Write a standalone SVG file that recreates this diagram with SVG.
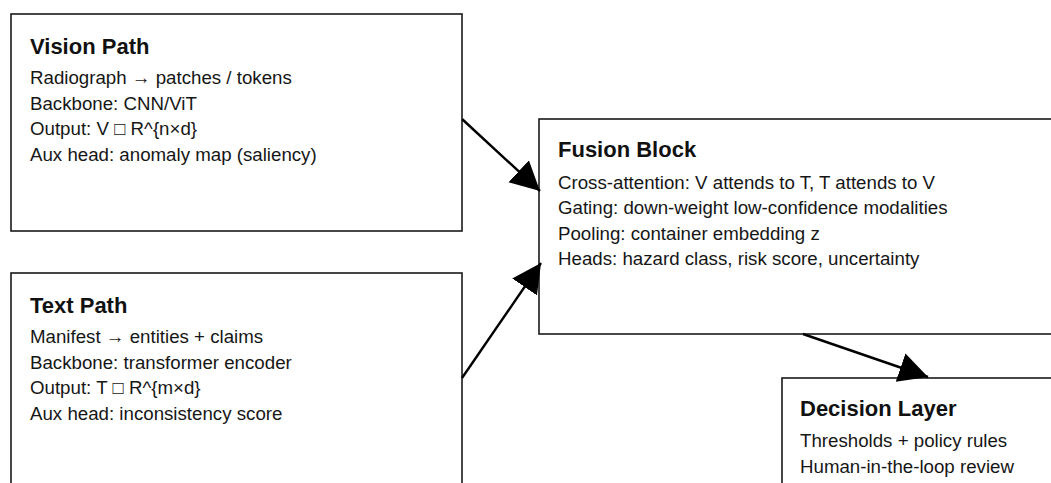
<svg xmlns="http://www.w3.org/2000/svg" width="1051" height="483" viewBox="0 0 1051 483">
  <style>
    .box { fill: #ffffff; stroke: #1a1a1a; stroke-width: 1.6; }
    .title { font-family: "Liberation Sans", Arial, sans-serif; font-size: 22px; font-weight: bold; fill: #111; }
    .body { font-family: "Liberation Sans", Arial, sans-serif; font-size: 18.7px; fill: #161616; }
    .edge { stroke: #000; stroke-width: 2.4; fill: none; }
  </style>
  <defs>
    <marker id="arrow" markerUnits="userSpaceOnUse" markerWidth="32" markerHeight="32" refX="29" refY="15" orient="auto" viewBox="0 0 32 32">
      <path d="M0,0 L29,15 L0,30 z" fill="#000"/>
    </marker>
  </defs>
  <rect width="1051" height="483" fill="#ffffff"/>

  <g id="vision">
    <rect class="box" x="11" y="14" width="451" height="217"/>
    <text class="title" x="30" y="54">Vision Path</text>
    <text class="body" x="30" y="84">Radiograph → patches / tokens</text>
    <text class="body" x="30" y="109.5">Backbone: CNN/ViT</text>
    <text class="body" x="30" y="135">Output: V □ R^{n×d}</text>
    <text class="body" x="30" y="160.5">Aux head: anomaly map (saliency)</text>
  </g>

  <g id="text-path">
    <rect class="box" x="11" y="273" width="451" height="230"/>
    <text class="title" x="30" y="313">Text Path</text>
    <text class="body" x="30" y="343">Manifest → entities + claims</text>
    <text class="body" x="30" y="368.5">Backbone: transformer encoder</text>
    <text class="body" x="30" y="394">Output: T □ R^{m×d}</text>
    <text class="body" x="30" y="419.5">Aux head: inconsistency score</text>
  </g>

  <g id="fusion">
    <rect class="box" x="539" y="119" width="530" height="215"/>
    <text class="title" x="558" y="157">Fusion Block</text>
    <text class="body" x="558" y="188.5">Cross-attention: V attends to T, T attends to V</text>
    <text class="body" x="558" y="214">Gating: down-weight low-confidence modalities</text>
    <text class="body" x="558" y="239.5">Pooling: container embedding z</text>
    <text class="body" x="558" y="265">Heads: hazard class, risk score, uncertainty</text>
  </g>

  <g id="decision">
    <rect class="box" x="782" y="378" width="300" height="130"/>
    <text class="title" x="800" y="416">Decision Layer</text>
    <text class="body" x="800" y="447">Thresholds + policy rules</text>
    <text class="body" x="800" y="472.5">Human-in-the-loop review</text>
  </g>

  <g id="connectors">
    <line class="edge" x1="462" y1="119" x2="540" y2="191" marker-end="url(#arrow)"/>
    <line class="edge" x1="462" y1="378" x2="541" y2="263" marker-end="url(#arrow)"/>
    <line class="edge" x1="803" y1="334" x2="928" y2="377" marker-end="url(#arrow)"/>
  </g>
</svg>
